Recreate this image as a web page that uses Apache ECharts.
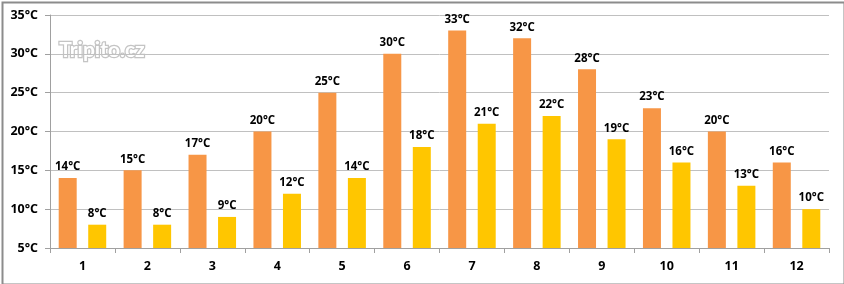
<!DOCTYPE html>
<html><head><meta charset="utf-8">
<script src="https://cdn.jsdelivr.net/npm/echarts@6/dist/echarts.min.js"></script>
<style>html,body{margin:0;padding:0;background:#fff}#c{width:844px;height:284px}</style>
</head><body><div id="c"></div>
<script>
const months = ['1','2','3','4','5','6','7','8','9','10','11','12'];
const dayTemps = [14,15,17,20,25,30,33,32,28,23,20,16];
const waterTemps = [8,8,9,12,14,18,21,22,19,16,13,10];
const yTicks = {min:5, max:35, interval:5};

const chart = echarts.init(document.getElementById('c'));
const font = '"Open Sans", sans-serif';
const txt = {color:'#000', fontWeight:'bold', fontFamily:font};
const lbl = Object.assign({show:true, position:'top', distance:5, formatter:'{c}°C', fontSize:11.5}, txt);
chart.setOption({
  animation:false,
  backgroundColor:'#fff',
  grid:{left:50, right:15, top:15, bottom:36},
  graphic:[
    {type:'rect', left:0, top:0, shape:{x:1,y:1,width:842,height:282}, style:{fill:'none', stroke:'#8c8c8c', lineWidth:2}, silent:true},
    {type:'text', left:58, top:38, style:{text:'Tripito.cz', fill:'#fff', stroke:'#c4c4c4', lineWidth:2.5, font:'bold 21px Lato, sans-serif'}, silent:true}
  ],
  xAxis:{type:'category', data:months,
    axisLine:{lineStyle:{color:'#a0a0a0'}},
    axisTick:{show:true, length:5, lineStyle:{color:'#a0a0a0'}},
    axisLabel:Object.assign({fontSize:12.5, margin:12}, txt)},
  yAxis:{type:'value', min:yTicks.min, max:yTicks.max, interval:yTicks.interval,
    axisLine:{show:true, lineStyle:{color:'#a0a0a0'}},
    axisTick:{show:true, length:5, lineStyle:{color:'#a0a0a0'}},
    splitLine:{lineStyle:{color:'#c0c0c0'}},
    axisLabel:Object.assign({formatter:'{value}°C', fontSize:12.5, margin:12}, txt)},
  series:[
    {type:'bar', data:dayTemps, barWidth:18, barGap:'64%', itemStyle:{color:'#F79646'}, label:lbl},
    {type:'bar', data:waterTemps, barWidth:18, itemStyle:{color:'#FFC600'}, label:lbl}
  ]
});
</script></body></html>
